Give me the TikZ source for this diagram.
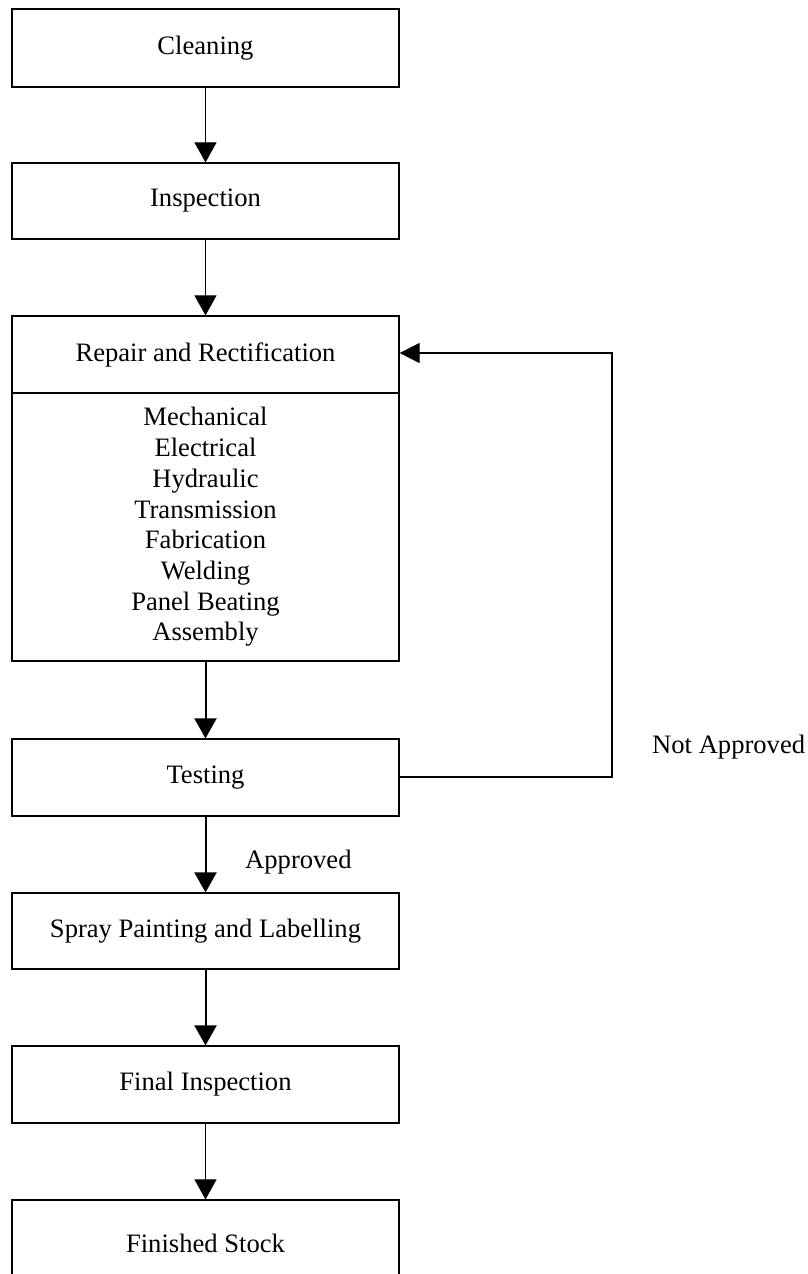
\documentclass[tikz,border=0pt]{standalone}
\usepackage{fontspec}
\setmainfont{Liberation Serif}
\usetikzlibrary{arrows.meta}
\begin{document}
\begin{tikzpicture}[x=1pt,y=-1pt,
  box/.style={draw, line width=1.2pt, minimum width=387pt, inner sep=0pt, align=center,
    font=\fontsize{26.6}{30.7}\selectfont},
  lbl/.style={inner sep=0pt, font=\fontsize{26.6}{30.7}\selectfont},
  arr/.style={line width=1pt, -{Triangle[width=22pt,length=20pt]}},
  tarr/.style={line width=2pt, -{Triangle[width=22pt,length=20pt]}}]
\useasboundingbox (0,0) rectangle (808,1274);
\node[box, minimum height=78pt] (clean) at (205.5,48) {Cleaning};
\node[box, minimum height=76pt] (insp) at (205.5,201) {Inspection};
\node[box, minimum height=77pt] (rep) at (205.5,354.5) {Repair and Rectification};
\node[box, minimum height=268pt] (body) at (205.5,527) {Mechanical\\Electrical\\Hydraulic\\Transmission\\Fabrication\\Welding\\Panel Beating\\Assembly};
\node[box, minimum height=77pt] (test) at (205.5,777.5) {Testing};
\node[box, minimum height=76pt] (spray) at (205.5,931) {Spray Painting and Labelling};
\node[box, minimum height=77pt] (final) at (205.5,1084.5) {Final Inspection};
\node[box, minimum height=86pt] (stock) at (205.5,1243) {Finished Stock};
\node[lbl, anchor=west] (na) at (652,747) {Not Approved};
\node[lbl, anchor=west] (ap) at (245,862) {Approved};
\coordinate (c1) at (612,777);
\coordinate (c2) at (612,353);
\draw[arr] (clean.south) -- (insp.north);
\draw[arr] (insp.south) -- (rep.north);
\draw[tarr] (body.south) -- (test.north);
\draw[tarr] (test.south) -- (spray.north);
\draw[tarr] (spray.south) -- (final.north);
\draw[arr] (final.south) -- (stock.north);
\draw[line width=1.2pt, -{Triangle[width=20pt,length=20pt]}] (test.east |- c1) -- (c1) -- (c2) -- (rep.east |- c2);
\end{tikzpicture}
\end{document}
